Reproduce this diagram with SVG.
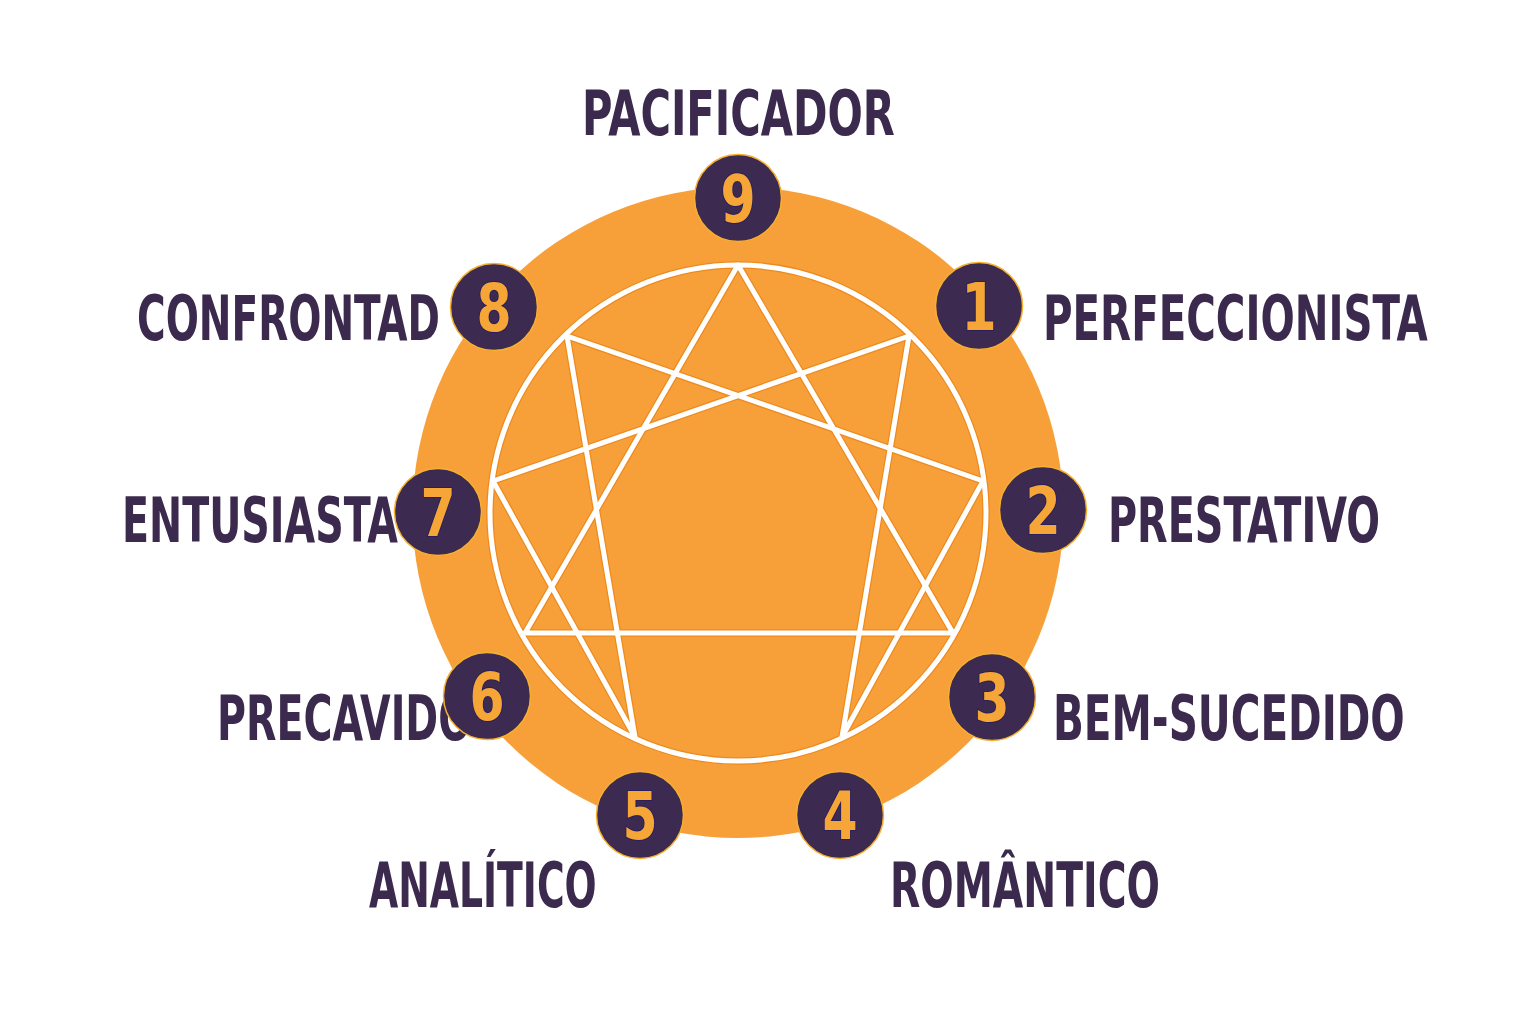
<svg xmlns="http://www.w3.org/2000/svg" width="1536" height="1024" viewBox="0 0 1536 1024">
<style>
.lbl{font-family:"DejaVu Sans Condensed","Liberation Sans Narrow","Liberation Sans",sans-serif;font-weight:bold;font-size:62px;fill:#3b2a4e}
.num{font-family:"DejaVu Sans Condensed","Liberation Sans Narrow","Liberation Sans",sans-serif;font-weight:bold;font-size:66px;fill:#f6a537;stroke:#2a1f5a;stroke-width:2;paint-order:stroke;text-anchor:middle}
.badge{fill:#3d2a50;stroke:#f6b030;stroke-width:1.5}
.ln{fill:none;stroke-linejoin:round}
.under{stroke:#ee8a1c;stroke-width:7.5}
.over{stroke:#ffffff;stroke-width:5}
</style>
<rect width="1536" height="1024" fill="#ffffff"/>
<g id="wheel">
<circle cx="738" cy="512.5" r="325.5" fill="#f7a03a"/>
</g>
<g id="connectors">
<g class="ln under">
<circle cx="738" cy="513" r="248"/>
<polygon points="738,265 953,633 525,633"/>
<polygon points="909,336 842,737 983,481 567,336 635,737 493,481"/>
</g>
<g class="ln over">
<circle cx="738" cy="513" r="248"/>
<polygon points="738,265 953,633 525,633"/>
<polygon points="909,336 842,737 983,481 567,336 635,737 493,481"/>
</g>
</g>
<g id="labels">
<text class="lbl" transform="translate(582,135) scale(0.66,1)" textLength="474" lengthAdjust="spacingAndGlyphs">PACIFICADOR</text>
<text class="lbl" transform="translate(137,340) scale(0.66,1)" textLength="459" lengthAdjust="spacingAndGlyphs">CONFRONTAD</text>
<text class="lbl" transform="translate(1043,340) scale(0.66,1)" textLength="583" lengthAdjust="spacingAndGlyphs">PERFECCIONISTA</text>
<text class="lbl" transform="translate(122,542) scale(0.66,1)" textLength="418" lengthAdjust="spacingAndGlyphs">ENTUSIASTA</text>
<text class="lbl" transform="translate(1108,542) scale(0.66,1)" textLength="412" lengthAdjust="spacingAndGlyphs">PRESTATIVO</text>
<text class="lbl" transform="translate(217,740) scale(0.66,1)" textLength="386" lengthAdjust="spacingAndGlyphs">PRECAVIDO</text>
<text class="lbl" transform="translate(1053,740) scale(0.66,1)" textLength="533" lengthAdjust="spacingAndGlyphs">BEM-SUCEDIDO</text>
<text class="lbl" transform="translate(369,907) scale(0.66,1)" textLength="345" lengthAdjust="spacingAndGlyphs">ANALÍTICO</text>
<text class="lbl" transform="translate(890,907) scale(0.66,1)" textLength="409" lengthAdjust="spacingAndGlyphs">ROMÂNTICO</text>
</g>
<g id="node-9"><circle class="badge" cx="738" cy="198" r="43.5"/><text class="num" transform="translate(738,222) scale(0.85,1)">9</text></g>
<g id="node-1"><circle class="badge" cx="979" cy="306" r="43.5"/><text class="num" transform="translate(979,330) scale(0.85,1)">1</text></g>
<g id="node-2"><circle class="badge" cx="1043" cy="510" r="43.5"/><text class="num" transform="translate(1043,534) scale(0.85,1)">2</text></g>
<g id="node-3"><circle class="badge" cx="992" cy="697" r="43.5"/><text class="num" transform="translate(992,721) scale(0.85,1)">3</text></g>
<g id="node-4"><circle class="badge" cx="840" cy="815" r="43.5"/><text class="num" transform="translate(840,839) scale(0.85,1)">4</text></g>
<g id="node-5"><circle class="badge" cx="640" cy="815" r="43.5"/><text class="num" transform="translate(640,839) scale(0.85,1)">5</text></g>
<g id="node-6"><circle class="badge" cx="487" cy="696" r="43.5"/><text class="num" transform="translate(487,720) scale(0.85,1)">6</text></g>
<g id="node-7"><circle class="badge" cx="438" cy="512" r="43.5"/><text class="num" transform="translate(438,536) scale(0.85,1)">7</text></g>
<g id="node-8"><circle class="badge" cx="494" cy="307" r="43.5"/><text class="num" transform="translate(494,331) scale(0.85,1)">8</text></g>
</svg>
